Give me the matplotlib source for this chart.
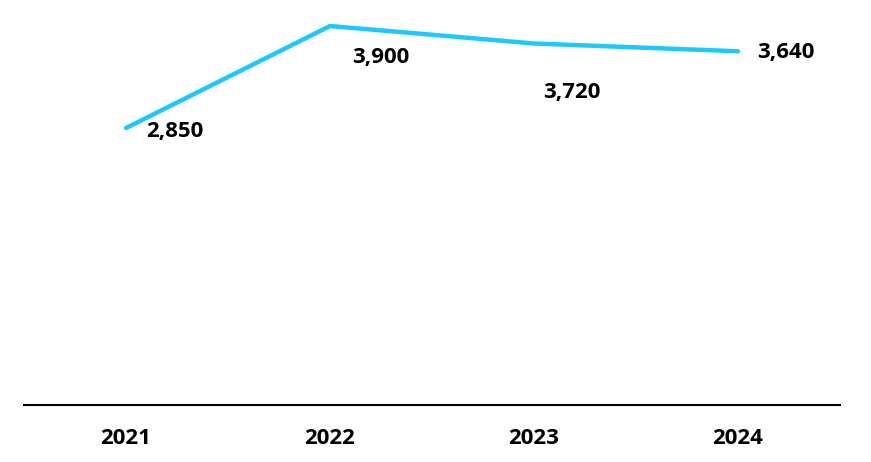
import matplotlib.pyplot as plt

# data
years = ["2021", "2022", "2023", "2024"]
values = [2850, 3900, 3720, 3640]
value_labels = ["2,850", "3,900", "3,720", "3,640"]

# label offsets in pixels (dx, dy) from each point
offsets = [(49, -3), (51, -31), (38, -49), (48, -1)]

fig = plt.figure(figsize=(8.71, 4.62), dpi=100)
ax = fig.add_axes([24 / 871, (462 - 405) / 462, 816 / 871, 405 / 462])

x = range(len(years))
ax.plot(x, values, color='#1ec8fb', linewidth=3.2, solid_capstyle='round', clip_on=False)

for i, (v, lab) in enumerate(zip(values, value_labels)):
    dx, dy = offsets[i]
    ax.annotate(lab, (i, v), xytext=(dx * 0.72, dy * 0.72), textcoords='offset points',
                ha='center', va='center', fontsize=16, fontweight='bold',
                family='Open Sans', color='black')

ax.set_xlim(-0.5, 3.5)
ax.set_ylim(0, 3900 * 405 / 379)
ax.set_xticks(list(x))
ax.set_xticklabels(years, fontsize=16, fontweight='bold', family='Open Sans')
ax.tick_params(axis='x', length=0, pad=16.5)
ax.set_yticks([])
for s in ['top', 'right', 'left']:
    ax.spines[s].set_visible(False)
ax.spines['bottom'].set_linewidth(1.5)
ax.spines['bottom'].set_color('black')

fig.savefig('out.png', dpi=100)
